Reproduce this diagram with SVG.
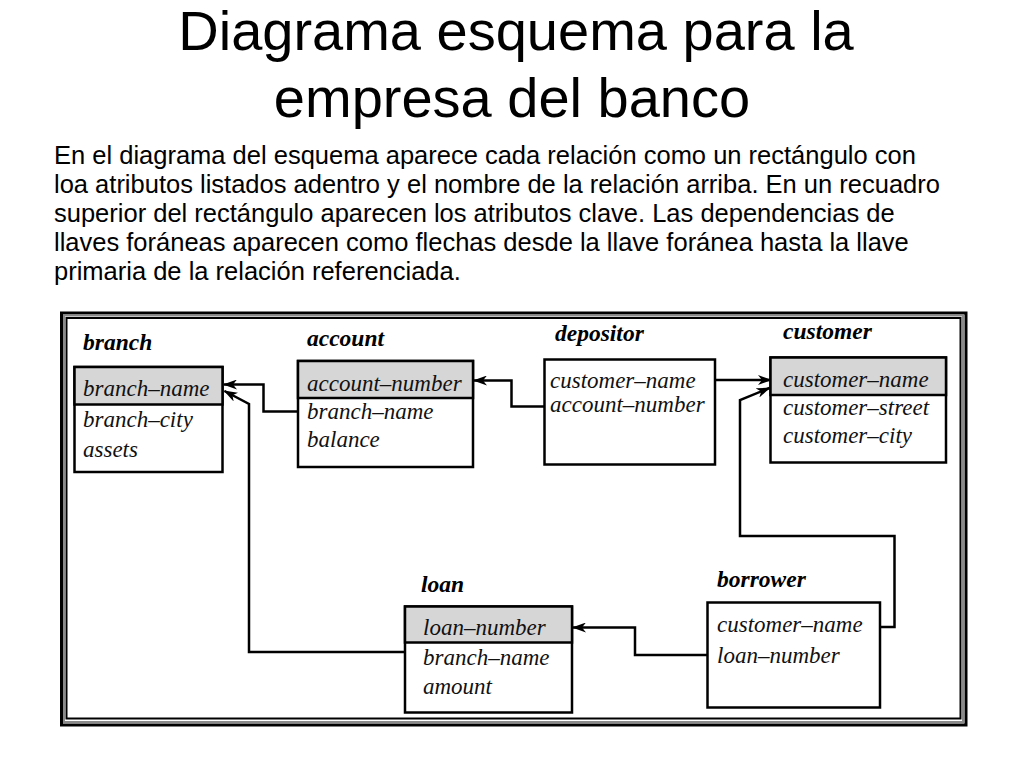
<svg xmlns="http://www.w3.org/2000/svg" width="1024" height="768" viewBox="0 0 1024 768">
<style>
.title{font-family:"Liberation Sans",Arial,sans-serif;font-size:56px;fill:#000;text-anchor:middle}
.para{font-family:"Liberation Sans",Arial,sans-serif;font-size:25.5px;fill:#000}
.rel{font-family:"Liberation Serif","Times New Roman",serif;font-style:italic;font-weight:bold;font-size:23.5px;fill:#000}
.att{font-family:"Liberation Serif","Times New Roman",serif;font-style:italic;font-size:23px;fill:#111}
.box{fill:#fff;stroke:#000;stroke-width:2.5}
.key{fill:#d6d6d6;stroke:#000;stroke-width:2.5}
.conn{fill:none;stroke:#000;stroke-width:2.5}
</style>
<defs>
<marker id="arr" viewBox="0 0 14 10" refX="13" refY="5" markerWidth="14" markerHeight="10" orient="auto" markerUnits="userSpaceOnUse">
<path d="M0,0 L14,5 L0,10 L4,5 z" fill="#000"/>
</marker>
</defs>
<rect width="1024" height="768" fill="#fff"/>
<text class="title" x="516" y="50">Diagrama esquema para la</text>
<text class="title" x="512" y="117">empresa del banco</text>
<g class="para">
<text x="54" y="164">En el diagrama del esquema aparece cada relación como un rectángulo con</text>
<text x="54" y="193">loa atributos listados adentro y el nombre de la relación arriba. En un recuadro</text>
<text x="54" y="222">superior del rectángulo aparecen los atributos clave. Las dependencias de</text>
<text x="54" y="251">llaves foráneas aparecen como flechas desde la llave foránea hasta la llave</text>
<text x="54" y="280">primaria de la relación referenciada.</text>
</g>
<g id="frame">
<rect x="61.5" y="313" width="904.5" height="412" fill="none" stroke="#000" stroke-width="3"/>
<rect x="64" y="315.5" width="899" height="406.5" fill="none" stroke="#8a8a8a" stroke-width="2"/>
<rect x="66.5" y="318" width="894" height="400.5" fill="none" stroke="#000" stroke-width="2"/>
</g>
<g id="connectors">
<path class="conn" d="M298,411.5 H263.5 V384.5 H224" marker-end="url(#arr)"/>
<path class="conn" d="M405,652 H249 V404 L224.5,391" marker-end="url(#arr)"/>
<path class="conn" d="M544.5,406.5 H511.5 V380.5 H474" marker-end="url(#arr)"/>
<path class="conn" d="M715,380 H771" marker-end="url(#arr)"/>
<path class="conn" d="M880,627 H894.5 V536 H740 V400 L769.5,388" marker-end="url(#arr)"/>
<path class="conn" d="M707.5,655 H635 V627.5 H573" marker-end="url(#arr)"/>
</g>
<g id="branch">
<text class="rel" x="83" y="350">branch</text>
<rect class="box" x="74.5" y="367" width="148" height="105"/>
<rect class="key" x="74.5" y="367" width="148" height="37.5"/>
<text class="att" x="83" y="396">branch–name</text>
<text class="att" x="83" y="427">branch–city</text>
<text class="att" x="83" y="457">assets</text>
</g>
<g id="account">
<text class="rel" x="307" y="346">account</text>
<rect class="box" x="298" y="361" width="175" height="106"/>
<rect class="key" x="298" y="361" width="175" height="37"/>
<text class="att" x="307" y="391">account–number</text>
<text class="att" x="307" y="419">branch–name</text>
<text class="att" x="307" y="447">balance</text>
</g>
<g id="depositor">
<text class="rel" x="555" y="341">depositor</text>
<rect class="box" x="544.5" y="359.5" width="170.5" height="105"/>
<text class="att" x="550" y="388">customer–name</text>
<text class="att" x="550" y="412">account–number</text>
</g>
<g id="customer">
<text class="rel" x="783" y="339">customer</text>
<rect class="box" x="770.5" y="357.5" width="175.5" height="105"/>
<rect class="key" x="770.5" y="357.5" width="175.5" height="37.5"/>
<text class="att" x="783" y="387">customer–name</text>
<text class="att" x="783" y="415">customer–street</text>
<text class="att" x="783" y="443">customer–city</text>
</g>
<g id="loan">
<text class="rel" x="421" y="592">loan</text>
<rect class="box" x="405" y="606.5" width="167" height="106"/>
<rect class="key" x="405" y="606.5" width="167" height="36"/>
<text class="att" x="423" y="635">loan–number</text>
<text class="att" x="423" y="665">branch–name</text>
<text class="att" x="423" y="694">amount</text>
</g>
<g id="borrower">
<text class="rel" x="717" y="587">borrower</text>
<rect class="box" x="707.5" y="602.5" width="172.5" height="105"/>
<text class="att" x="717" y="632">customer–name</text>
<text class="att" x="717" y="663">loan–number</text>
</g>
</svg>
